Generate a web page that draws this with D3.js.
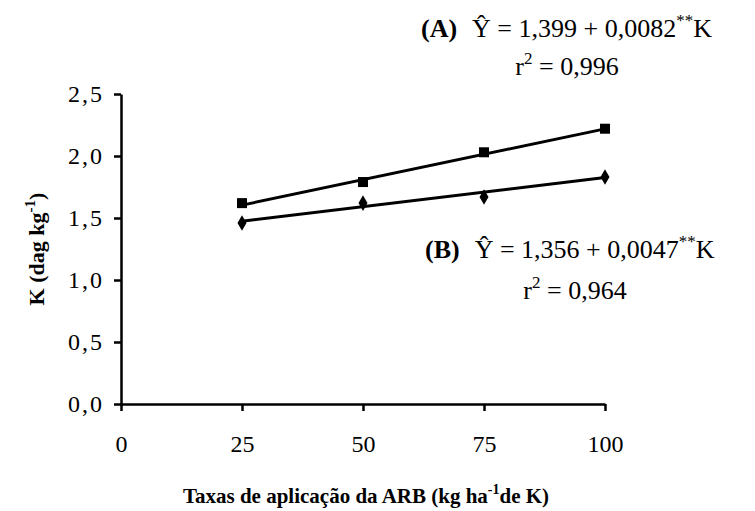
<!DOCTYPE html>
<html>
<head>
<meta charset="utf-8">
<script src="https://cdn.jsdelivr.net/npm/d3@7"></script>
<style>
  body { margin: 0; background: #fff; }
</style>
</head>
<body>
<svg id="chart"></svg>
<script>
// data
const rates = [25, 50, 75, 100];
const seriesA = [1.62, 1.79, 2.03, 2.22];
const seriesB = [1.46, 1.62, 1.67, 1.83];
const fitA = { a: 1.399, b: 0.0082 };
const fitB = { a: 1.356, b: 0.0047 };
const xTicks = [0, 25, 50, 75, 100];
const yTicks = [0, 0.5, 1.0, 1.5, 2.0, 2.5];

const FONT = 'Liberation Serif';
const width = 755;
const height = 511;
const margin = { top: 94, right: 150, bottom: 107, left: 121 };

const svg = d3.select('#chart')
  .attr('width', width)
  .attr('height', height);

const chart = svg.append('g')
  .attr('transform', `translate(${margin.left},${margin.top})`);

const innerW = width - margin.left - margin.right;
const innerH = height - margin.top - margin.bottom;

const x = d3.scaleLinear().domain([0, 100]).range([0, innerW]);
const y = d3.scaleLinear().domain([0, 2.5]).range([innerH, 0]);

const fmt = (d) => d3.format('.1f')(d).replace('.', ',');

// axes
const xAxis = chart.append('g')
  .attr('transform', `translate(0,${innerH})`)
  .call(d3.axisBottom(x).tickValues(xTicks).tickSize(7).tickPadding(24).tickSizeOuter(0));
const yAxis = chart.append('g')
  .call(d3.axisLeft(y).tickValues(yTicks).tickFormat(fmt).tickSize(7).tickPadding(10).tickSizeOuter(0));

[xAxis, yAxis].forEach((ax) => {
  ax.select('.domain').attr('stroke', '#000').attr('stroke-width', 2.5);
  ax.selectAll('.tick line').attr('stroke', '#000').attr('stroke-width', 2.5);
  ax.selectAll('.tick text').attr('fill', '#000').attr('font-size', 24);
});
yAxis.selectAll('.tick text').attr('letter-spacing', 2);

// regression lines
const fitLine = (f) => d3.line()
  .x((d) => x(d))
  .y((d) => y(f.a + f.b * d));

[fitA, fitB].forEach((f) => {
  chart.append('path')
    .datum([rates[0], rates[rates.length - 1]])
    .attr('d', fitLine(f))
    .attr('fill', 'none')
    .attr('stroke', '#000')
    .attr('stroke-width', 3);
});

// markers
chart.selectAll('.sq')
  .data(rates.map((r, i) => ({ r, v: seriesA[i] })))
  .join('rect')
  .attr('class', 'sq')
  .attr('x', (d) => x(d.r) - 5)
  .attr('y', (d) => y(d.v) - 5)
  .attr('width', 10)
  .attr('height', 10)
  .attr('fill', '#000');

chart.selectAll('.dia')
  .data(rates.map((r, i) => ({ r, v: seriesB[i] })))
  .join('path')
  .attr('class', 'dia')
  .attr('d', d3.symbol().type(d3.symbolDiamond).size(70))
  .attr('transform', (d) => `translate(${x(d.r)},${y(d.v)})`)
  .attr('fill', '#000');

// axis titles
svg.append('text')
  .attr('transform', `translate(44,${margin.top + innerH / 2}) rotate(-90)`)
  .attr('text-anchor', 'middle')
  .attr('font-size', 22)
  .attr('font-weight', 'bold')
  .call((t) => {
    t.append('tspan').text('K (dag kg');
    t.append('tspan').attr('dy', -9).attr('font-size', 15).text('-1');
    t.append('tspan').attr('dy', 9).text(')');
  });

svg.append('text')
  .attr('x', 366)
  .attr('y', 503)
  .attr('text-anchor', 'middle')
  .attr('font-size', 21)
  .attr('font-weight', 'bold')
  .call((t) => {
    t.append('tspan').text('Taxas de aplicação da ARB (kg ha');
    t.append('tspan').attr('dy', -9).attr('font-size', 14).text('-1');
    t.append('tspan').attr('dy', 9).text('de K)');
  });

// equation annotations
const eqs = [
  { tag: '(A)', a: '1,399', b: '0,0082', r2: '0,996', tx: 421, ty: 37, rx: 567, ry: 75 },
  { tag: '(B)', a: '1,356', b: '0,0047', r2: '0,964', tx: 425, ty: 258, rx: 575, ry: 299 },
];

eqs.forEach((e) => {
  const t = svg.append('text')
    .attr('x', e.tx)
    .attr('y', e.ty)
    .attr('font-size', 26);
  t.append('tspan').attr('font-weight', 'bold').text(e.tag);
  t.append('tspan').attr('dx', 15).text(`Ŷ = ${e.a} + ${e.b}`);
  t.append('tspan').attr('dy', -11).attr('font-size', 17).text('**');
  t.append('tspan').attr('dy', 11).text('K');

  const r = svg.append('text')
    .attr('x', e.rx)
    .attr('y', e.ry)
    .attr('text-anchor', 'middle')
    .attr('font-size', 26);
  r.append('tspan').text('r');
  r.append('tspan').attr('dy', -11).attr('font-size', 17).text('2');
  r.append('tspan').attr('dy', 11).text(` = ${e.r2}`);
});

// serif font set directly on every text node
svg.selectAll('g').attr('font-family', null);
svg.selectAll('text').attr('font-family', FONT);
svg.selectAll('tspan').attr('font-family', FONT);
</script>
</body>
</html>
